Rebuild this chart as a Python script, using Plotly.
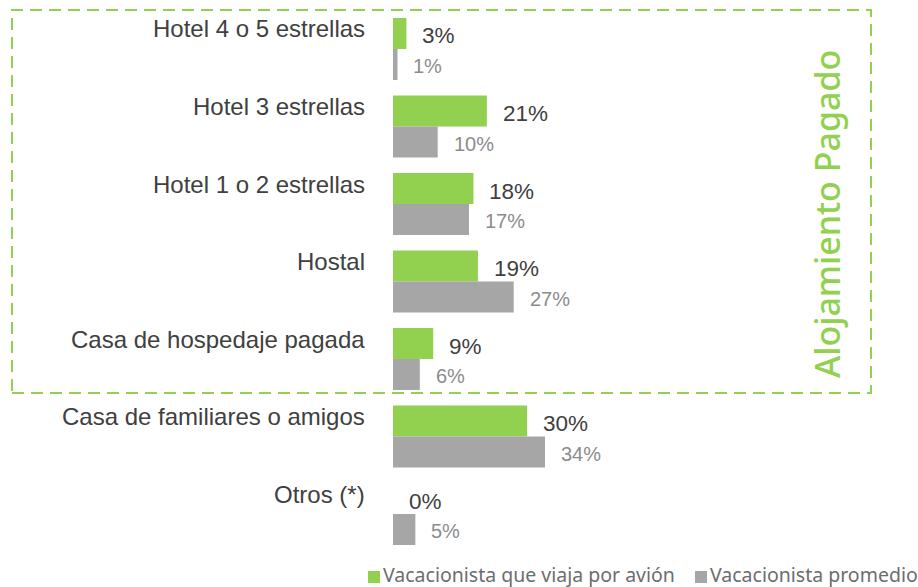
import plotly.graph_objects as go

categories = ["Hotel 4 o 5 estrellas", "Hotel 3 estrellas", "Hotel 1 o 2 estrellas",
              "Hostal", "Casa de hospedaje pagada", "Casa de familiares o amigos", "Otros (*)"]
avion = [3, 21, 18, 19, 9, 30, 0]
promedio = [1, 10, 17, 27, 6, 34, 5]
series_names = ["Vacacionista que viaja por avión", "Vacacionista promedio"]
box_label = "Alojamiento Pagado"

GREEN = "#92D050"
GRAY = "#A6A6A6"
W, H = 918, 587

fig = go.Figure()
fig.add_trace(go.Bar(y=categories, x=avion, orientation="h", name=series_names[0],
                     marker=dict(color=GREEN, line=dict(width=0))))
fig.add_trace(go.Bar(y=categories, x=promedio, orientation="h", name=series_names[1],
                     marker=dict(color=GRAY, line=dict(width=0))))

ann = []
for c, a, p in zip(categories, avion, promedio):
    ann.append(dict(x=0, y=c, xref="x", yref="y", text=c, showarrow=False,
                    xanchor="right", yanchor="middle", xshift=-26, yshift=20,
                    font=dict(family="Liberation Sans, Arial", size=24, color="#404040")))
    ann.append(dict(x=a, y=c, xref="x", yref="y", text=f"{a}%", showarrow=False,
                    xanchor="left", yanchor="middle", xshift=14, yshift=13,
                    font=dict(family="Liberation Sans, Arial", size=22.5, color="#404040")))
    ann.append(dict(x=p, y=c, xref="x", yref="y", text=f"{p}%", showarrow=False,
                    xanchor="left", yanchor="middle", xshift=14, yshift=-17,
                    font=dict(family="Liberation Sans, Arial", size=20, color="#8C8C8C")))

ann.append(dict(x=827 / W, y=(H - 214) / H, xref="paper", yref="paper", text=box_label,
                showarrow=False, textangle=-90, xanchor="center", yanchor="middle",
                font=dict(family="Noto Sans", size=34, weight=500, color=GREEN)))

# manual legend
leg_font = dict(family="Noto Sans", size=19.5, color="#6D6D6D")
leg_items = [(368, 382, GREEN, series_names[0]), (695, 709, GRAY, series_names[1])]
shapes = [dict(type="rect", xref="paper", yref="paper",
               x0=12 / W, x1=871 / W, y0=(H - 393) / H, y1=(H - 10) / H,
               line=dict(color=GREEN, width=2, dash="12px,7px"), fillcolor="rgba(0,0,0,0)")]
for sx, tx, col, name in leg_items:
    shapes.append(dict(type="rect", xref="paper", yref="paper",
                       x0=sx / W, x1=(sx + 12) / W, y0=(H - 583) / H, y1=(H - 571) / H,
                       line=dict(width=0), fillcolor=col))
    ann.append(dict(x=tx / W, y=(H - 574) / H, xref="paper", yref="paper", text=name,
                    showarrow=False, xanchor="left", yanchor="middle", borderpad=0,
                    font=leg_font))

fig.update_layout(
    width=W, height=H,
    margin=dict(l=0, r=0, t=0, b=0),
    paper_bgcolor="white", plot_bgcolor="white",
    barmode="group", bargap=0.2, bargroupgap=0,
    xaxis=dict(domain=[393 / W, 840 / W], range=[0, 100], visible=False, fixedrange=True),
    yaxis=dict(domain=[(H - 552.75) / H, (H - 10.25) / H], autorange="reversed",
               showticklabels=False, showgrid=False, zeroline=False, ticks="", fixedrange=True),
    showlegend=False,
    annotations=ann,
    shapes=shapes,
)

fig.write_html("out.html", config={"displayModeBar": False},
               post_script="document.body.style.margin='0';document.body.style.padding='0';"
                           "document.body.style.overflow='hidden';")
